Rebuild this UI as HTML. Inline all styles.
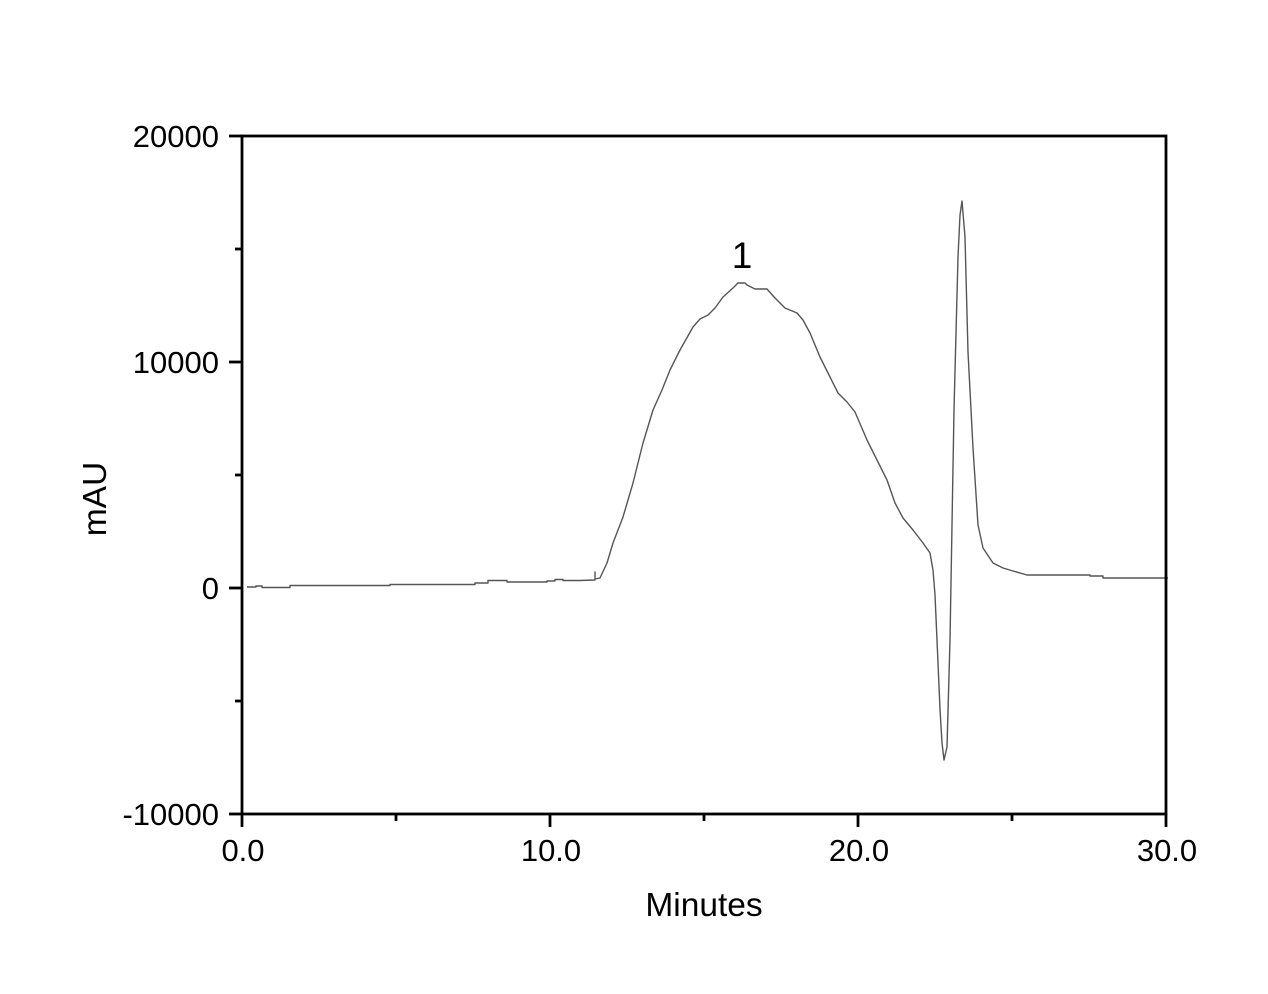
<!DOCTYPE html>
<html>
<head>
<meta charset="utf-8">
<style>
html,body{margin:0;padding:0;background:#fff;}
svg{display:block;}
text{font-family:"Liberation Sans",Arial,sans-serif;fill:#000;}
</style>
</head>
<body>
<svg width="1268" height="994" viewBox="0 0 1268 994" xmlns="http://www.w3.org/2000/svg">
<rect x="0" y="0" width="1268" height="994" fill="#fff"/>
<!-- curve -->
<polyline fill="none" stroke="#555" stroke-width="1.4" stroke-linejoin="round" points="
247,587 256,587 256,586 262,586 262,587.5 290,587.5 290,585.5 390,585.5 390,584.5 475,584.5 475,583 488,583 488,580.5 507,580.5 507,582 547,582 547,581 555,581 555,579.5 563,579.5 563,580.5 580,580.5 595,580 595,572 595,579 600,578 607,563 613,543 623,517 633,483 643,443 653,410 662,390 670,370 680,350 693,327 700,319 708,315 715,308 723,297 733,288 738,283 745,283 747,285 755,289 767,289 775,298 785,308 797,313 803,320 810,333 820,357 828,373 838,393 847,402 855,412 867,440 877,460 887,480 895,503 903,518 913,530 923,543 930,553 933,570 935,595 937,640 940,709 942,743 944,760 947,747 950,640 952,525 954,410 958,257 960,215 962,201 965,237 968,352 973,448 978,525 983,548 993,563 1003,568 1013,571 1027,575 1090,575 1090,576 1103,576 1103,578 1168,578"/>
<!-- frame -->
<rect x="242" y="136" width="924" height="678" fill="none" stroke="#000" stroke-width="2.8"/>
<!-- y ticks -->
<g stroke="#000" stroke-width="2.8">
<line x1="229" y1="136" x2="242" y2="136"/>
<line x1="235" y1="249" x2="242" y2="249"/>
<line x1="229" y1="362" x2="242" y2="362"/>
<line x1="235" y1="475" x2="242" y2="475"/>
<line x1="229" y1="588" x2="242" y2="588"/>
<line x1="235" y1="701" x2="242" y2="701"/>
<line x1="229" y1="814" x2="242" y2="814"/>
<!-- x ticks -->
<line x1="242" y1="814" x2="242" y2="827"/>
<line x1="396" y1="814" x2="396" y2="821"/>
<line x1="550" y1="814" x2="550" y2="827"/>
<line x1="704" y1="814" x2="704" y2="821"/>
<line x1="858" y1="814" x2="858" y2="827"/>
<line x1="1012" y1="814" x2="1012" y2="821"/>
<line x1="1166" y1="814" x2="1166" y2="827"/>
</g>
<!-- y tick labels -->
<g font-size="31" text-anchor="end">
<text x="219" y="147">20000</text>
<text x="219" y="373">10000</text>
<text x="219" y="599">0</text>
<text x="219" y="825">-10000</text>
</g>
<!-- x tick labels -->
<g font-size="31" text-anchor="middle">
<text x="243" y="861">0.0</text>
<text x="551" y="861">10.0</text>
<text x="859" y="861">20.0</text>
<text x="1167" y="861">30.0</text>
</g>
<text x="704" y="916" font-size="33.5" text-anchor="middle">Minutes</text>
<text transform="translate(106,499) rotate(-90)" font-size="33.5" text-anchor="middle">mAU</text>
<text x="742" y="268" font-size="37" text-anchor="middle" fill="#222">1</text>
</svg>
</body>
</html>
